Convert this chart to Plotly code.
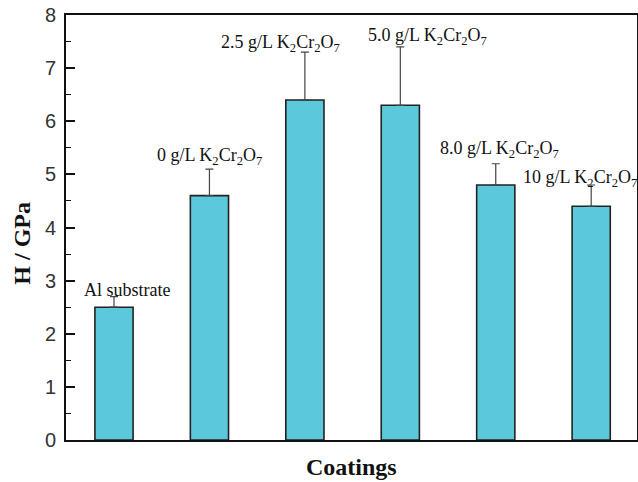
import plotly.graph_objects as go

categories = [1, 2, 3, 4, 5, 6]
labels = ["Al substrate",
          "0 g/L K<sub>2</sub>Cr<sub>2</sub>O<sub>7</sub>",
          "2.5 g/L K<sub>2</sub>Cr<sub>2</sub>O<sub>7</sub>",
          "5.0 g/L K<sub>2</sub>Cr<sub>2</sub>O<sub>7</sub>",
          "8.0 g/L K<sub>2</sub>Cr<sub>2</sub>O<sub>7</sub>",
          "10 g/L K<sub>2</sub>Cr<sub>2</sub>O<sub>7</sub>"]
hardness = [2.5, 4.6, 6.4, 6.3, 4.8, 4.4]
errors = [0.2, 0.5, 0.9, 1.1, 0.4, 0.4]
label_x = [1.136, 2.0, 2.74, 4.29, 5.04, 5.88]
label_y = [2.82, 5.33, 7.46, 7.59, 5.47, 4.93]

fig = go.Figure()
fig.add_trace(go.Bar(
    x=categories, y=hardness, width=0.4,
    marker=dict(color="#5BC8DB", line=dict(color="#222222", width=1.6)),
    error_y=dict(type="data", array=errors, arrayminus=[0]*6, symmetric=False,
                 color="#444444", thickness=1.2, width=4),
))

for lx, ly, t in zip(label_x, label_y, labels):
    fig.add_annotation(x=lx, y=ly, text=t, showarrow=False,
                       font=dict(family="Liberation Serif", size=18, color="#111"))

# axis titles
fig.add_annotation(xref="paper", yref="paper", x=0, y=0.462, xshift=-44,
                   xanchor="center", yanchor="middle",
                   text="<b>H / GPa</b>", textangle=-90, showarrow=False,
                   font=dict(family="Liberation Serif", size=24, color="#111"))
fig.add_annotation(xref="paper", yref="paper", x=0.5, y=0, yshift=-27,
                   xanchor="center", yanchor="middle",
                   text="<b>Coatings</b>", showarrow=False,
                   font=dict(family="Liberation Serif", size=24, color="#111"))

fig.update_layout(
    width=638, height=482,
    margin=dict(l=66, r=1, t=15, b=42, autoexpand=False),
    paper_bgcolor="white", plot_bgcolor="white",
    showlegend=False,
    xaxis=dict(range=[0.497, 6.48], showticklabels=False, ticks="",
               showline=True, linecolor="#111", linewidth=2, mirror=True,
               showgrid=False, zeroline=False, automargin=False),
    yaxis=dict(range=[0, 8], dtick=1, ticks="inside", ticklen=9, tickwidth=1.5,
               tickcolor="#111",
               minor=dict(dtick=0.5, ticks="inside", ticklen=5, tickwidth=1.2, tickcolor="#111"),
               showline=True, linecolor="#111", linewidth=2, mirror=True,
               showgrid=False, zeroline=False, automargin=False,
               ticklabelstandoff=4,
               tickfont=dict(family="Liberation Sans", size=20, color="#333")),
)

fig.write_html("out.html", config={"displayModeBar": False},
               post_script="document.body.style.margin='0';")
